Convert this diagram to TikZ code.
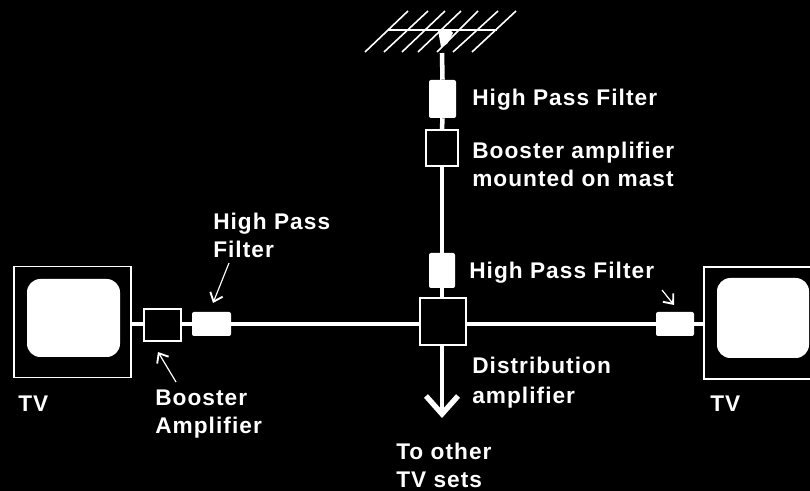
\documentclass[tikz,border=0pt]{standalone}
\usepackage{fontspec}
\setmainfont{Liberation Sans}[BoldFont={Liberation Sans Bold}]
\usetikzlibrary{arrows.meta}
\tikzset{
 px/.style={x=0.75pt,y=-0.75pt},
 lab/.style={text=white,font=\fontsize{17pt}{21pt}\selectfont\bfseries\addfontfeatures{LetterSpace=4.6},anchor=west,inner sep=0,align=left},
 wire/.style={draw=white,line width=3.4pt},
 thin wire/.style={draw=white,line width=2.4pt},
 blockbox/.style={draw=white,fill=black,line width=1.3pt,minimum size=0pt,inner sep=0},
 filterbox/.style={fill=white,rounded corners=1.5pt,inner sep=0},
 pointer/.style={draw=white,line width=0.9pt,-{Straight Barb[length=6pt,width=10pt,line width=1.4pt]}},
 element/.style={draw=white,line width=1.2pt},
}
\newcommand{\rectnode}[5]{\node[#1,minimum width=#4*0.75pt,minimum height=#5*0.75pt] (#2) at (#3) {};}
\begin{document}
\begin{tikzpicture}[px]
\useasboundingbox[fill=black] (0,0) rectangle (810,491);
% antenna
\foreach \a/\b in {408/365,428/384,445/402,461/418,478/437,498/453,516/472}
  \draw[element] (\a,11) -- (\b,52);
\draw[draw=white,line width=1.5pt] (388,30) -- (497,30);
\fill[white] (438,30) -- (450,30) -- (453,33) -- (447,44) -- (441,47) -- cycle;
\coordinate (feed) at (442,53);
% blocks
\rectnode{filterbox}{f1}{442.5,99}{27}{38}
\rectnode{filterbox}{f2}{442,270.5}{26}{35}
\rectnode{filterbox}{f3}{211.5,324}{39}{24}
\rectnode{filterbox}{f4}{675,324}{38}{24}
\rectnode{blockbox}{b1}{442,148}{32}{36}
\rectnode{blockbox}{dist}{443,321.5}{46}{47}
\rectnode{blockbox}{b2}{162.5,325}{37}{32}
% TVs
\node[draw=white,line width=1.2pt,minimum width=117*0.75pt,minimum height=111*0.75pt,inner sep=0] (tvl) at (72.5,322) {};
\node[fill=white,rounded corners=10pt,minimum width=93*0.75pt,minimum height=78*0.75pt,inner sep=0] (sl) at (73.5,318) {};
\node[draw=white,line width=1.2pt,minimum width=117*0.75pt,minimum height=112*0.75pt,inner sep=0] (tvr) at (762.5,323) {};
\node[fill=white,rounded corners=10pt,minimum width=92*0.75pt,minimum height=80*0.75pt,inner sep=0] (sr) at (763,318) {};
% wires
\draw[wire] (feed) -- (f1.north);
\draw[wire] (f1.south) -- (b1.north);
\draw[wire] (b1.south) -- (f2.north);
\draw[wire] (f2.south) -- (dist.north -| f2.south);
\draw[thin wire] (tvl.east |- f3) -- (b2.west |- f3);
\draw[thin wire] (b2.east |- f3) -- (f3.west);
\draw[wire] (f3.east) -- (dist.west |- f3);
\draw[thin wire] (dist.east |- f4) -- (f4.west);
\draw[wire] (f4.east) -- (tvr.west |- f4);
% arrow to other sets
\coordinate (tip) at (442,414);
\coordinate (hl) at (426,396);
\coordinate (hr) at (458,396);
\draw[draw=white,line width=3pt] (dist.south -| tip) -- (tip);
\draw[draw=white,line width=4pt,line join=miter] (hl) -- (tip) -- (hr);
% pointers
\coordinate (p1) at (229,263); \coordinate (p1e) at (213,303);
\coordinate (p2) at (176,382); \coordinate (p2e) at (158,352);
\coordinate (p3) at (662,290); \coordinate (p3e) at (674,305);
\draw[pointer] (p1) -- (p1e);
\draw[pointer] (p2) -- (p2e);
\draw[pointer] (p3) -- (p3e);
% labels
\node[lab] (t1) at (472,100) {High Pass Filter};
\node[lab] (t2) at (472,164.5) {Booster amplifier\\mounted on mast};
\node[lab] (t3) at (213,235.5) {High Pass\\Filter};
\node[lab] (t4) at (469,272.5) {High Pass Filter};
\node[lab] (t5) at (472,382.5) {Distribution\\[2pt]amplifier};
\node[lab] (t6) at (155,414.5) {Booster\\Amplifier};
\node[lab] (t7) at (396,465.5) {To other\\TV sets};
\node[lab] (t8) at (18,404) {TV};
\node[lab] (t9) at (710,404) {TV};
\end{tikzpicture}
\end{document}
